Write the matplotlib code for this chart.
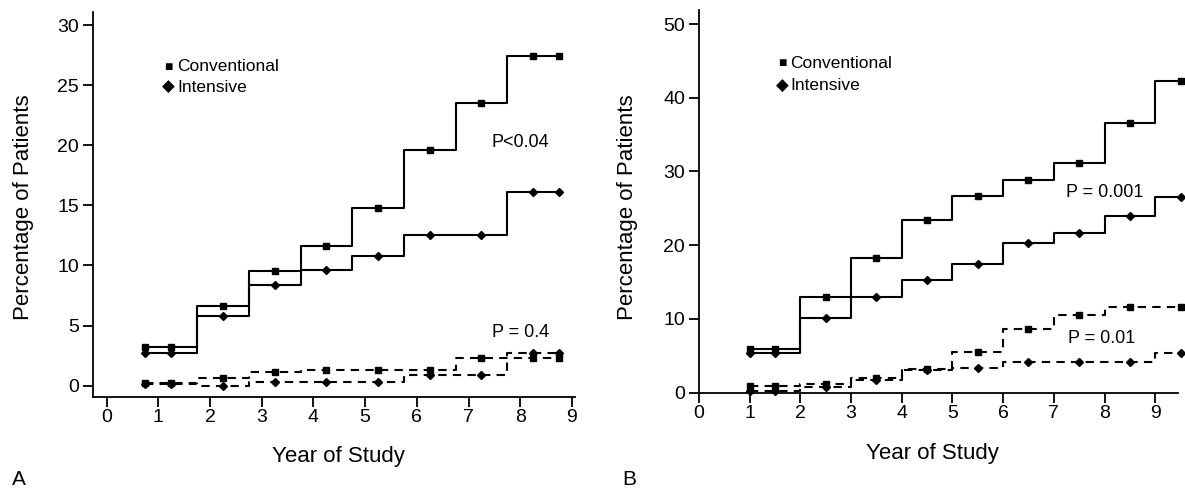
import numpy as np
import matplotlib
matplotlib.use("Agg")
import matplotlib.pyplot as plt

plt.rcParams['font.family'] = ['Liberation Sans', 'DejaVu Sans']

# ---------------- Data ----------------
# Panel A: step edges (year) and interval values (%)
a_edges = [0.75, 1.75, 2.75, 3.75, 4.75, 5.75, 6.75, 7.75, 8.75]
a_conv_solid = [3.2, 6.6, 9.5, 11.6, 14.8, 19.6, 23.5, 27.4]
a_int_solid = [2.7, 5.8, 8.4, 9.6, 10.8, 12.5, 12.5, 16.1]
a_conv_dash = [0.25, 0.6, 1.1, 1.3, 1.3, 1.3, 2.3, 2.3]
a_int_dash = [0.1, 0.0, 0.3, 0.3, 0.3, 0.9, 0.9, 2.7]
a_marker_x = [0.75, 1.25, 2.25, 3.25, 4.25, 5.25, 6.25, 7.25, 8.25, 8.75]

# Panel B
b_edges = [1, 2, 3, 4, 5, 6, 7, 8, 9, 9.5]
b_conv_solid = [5.9, 12.9, 18.3, 23.4, 26.6, 28.9, 31.2, 36.6, 42.3]
b_int_solid = [5.4, 10.1, 13.0, 15.2, 17.4, 20.3, 21.6, 23.9, 26.5]
b_conv_dash = [0.9, 1.1, 2.0, 3.2, 5.5, 8.6, 10.5, 11.6, 11.6]
b_int_dash = [0.2, 0.7, 1.7, 3.1, 3.3, 4.1, 4.1, 4.1, 5.4]
b_marker_x = [1, 1.5, 2.5, 3.5, 4.5, 5.5, 6.5, 7.5, 8.5, 9.5]

a_yticks = [0, 5, 10, 15, 20, 25, 30]
b_yticks = [0, 10, 20, 30, 40, 50]
xticks = list(range(10))

a_p_labels = [("P<0.04", 7.45, 20.2), ("P = 0.4", 7.45, 4.4)]
b_p_labels = [("P = 0.001", 7.25, 27.2), ("P = 0.01", 7.28, 7.3)]

legend_labels = ["Conventional", "Intensive"]
xlabel = "Year of Study"
ylabel = "Percentage of Patients"

LW = 1.5
DASH = (0, (4, 3.0))
W, H = 1185, 494


def values_at(edges, vals, xs):
    out = []
    for x in xs:
        i = np.searchsorted(edges, x, side='right') - 1
        i = min(max(i, 0), len(vals) - 1)
        out.append(vals[i])
    return out


def draw_series(ax, edges, vals, marker_x, marker, ms, ls):
    yv = list(vals) + [vals[-1]]
    ax.step(edges, yv, where='post', color='black', lw=LW, linestyle=ls,
            clip_on=False)
    ax.plot(marker_x, values_at(edges, vals, marker_x), linestyle='none',
            marker=marker, ms=ms, color='black', clip_on=False)


fig = plt.figure(figsize=(W / 100, H / 100), dpi=100)


def axes_px(l, t, r, b):
    return fig.add_axes([l / W, 1 - b / H, (r - l) / W, (b - t) / H])


def fx(px):
    return px / W


def fy(py):
    return 1 - py / H


# ---------------- Panel A ----------------
axA = axes_px(93, 12, 575, 397)
for vals, mk, ms, ls in ((a_conv_solid, 's', 4.5, '-'), (a_int_solid, 'D', 4.5, '-'),
                         (a_conv_dash, 's', 4.5, DASH), (a_int_dash, 'D', 4.5, DASH)):
    draw_series(axA, a_edges, vals, a_marker_x, mk, ms, ls)
axA.set_xlim(-0.265, 9.06)
axA.set_ylim(-0.95, 31.1)
axA.set_yticks(a_yticks)
axA.set_xticks(xticks)
for txt, x, y in a_p_labels:
    axA.text(x, y, txt, fontsize=13, ha='left', va='center')

# ---------------- Panel B ----------------
axB = axes_px(699, 10, 1178, 392.5)
for vals, mk, ms, ls in ((b_conv_solid, 's', 4.5, '-'), (b_int_solid, 'D', 4.5, '-'),
                         (b_conv_dash, 's', 4.5, DASH), (b_int_dash, 'D', 4.5, DASH)):
    draw_series(axB, b_edges, vals, b_marker_x, mk, ms, ls)
axB.set_xlim(0, 9.45)
axB.set_ylim(0, 51.9)
axB.set_yticks(b_yticks)
axB.set_xticks(xticks)
for txt, x, y in b_p_labels:
    axB.text(x, y, txt, fontsize=13, ha='left', va='center')

for ax in (axA, axB):
    for s in ('top', 'right'):
        ax.spines[s].set_visible(False)
    for s in ('left', 'bottom'):
        ax.spines[s].set_linewidth(1.3)
    ax.tick_params(axis='x', direction='out', length=7.5, width=1.3, labelsize=14, pad=1.5)
    ax.tick_params(axis='y', direction='out', length=7, width=1.3, labelsize=14, pad=3)

# Axis titles
fig.text(fx(338), fy(456), xlabel, fontsize=16, ha='center', va='center')
fig.text(fx(932), fy(453), xlabel, fontsize=16, ha='center', va='center')
fig.text(fx(23), fy(207), ylabel, fontsize=16, ha='center', va='center', rotation=90)
fig.text(fx(628), fy(207), ylabel, fontsize=16, ha='center', va='center', rotation=90)


# Legends (manual, as in the original figure)
def legend(sq_x, txt_x, y1, y2):
    fig.text(fx(sq_x), fy(y1), "\u25A0", fontsize=10, ha='center', va='center')
    fig.text(fx(txt_x), fy(y1), legend_labels[0], fontsize=12.5, ha='left', va='center')
    fig.text(fx(sq_x), fy(y2), "\u25C6", fontsize=12, ha='center', va='center')
    fig.text(fx(txt_x), fy(y2), legend_labels[1], fontsize=12.5, ha='left', va='center')


legend(168, 177, 66.5, 87.5)
legend(782, 790, 63, 86)

fig.text(fx(12), fy(479), "A", fontsize=15, ha='left', va='center')
fig.text(fx(622), fy(479), "B", fontsize=15, ha='left', va='center')

fig.savefig("out.png", dpi=100, facecolor='white')
